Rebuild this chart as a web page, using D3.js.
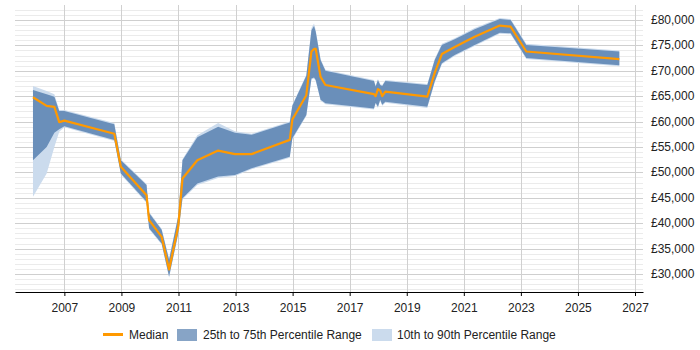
<!DOCTYPE html>
<html>
<head>
<meta charset="utf-8">
<script src="https://cdn.jsdelivr.net/npm/d3@7"></script>
<style>
  body { margin: 0; background: #fff; }
  text { font-family: "Liberation Sans", Arial, sans-serif; }
</style>
</head>
<body>
<div id="root"></div>
<script>
// decimal years of each sample
var years = [2005.9, 2006.38, 2006.65, 2006.82, 2007.0, 2008.75, 2008.98, 2009.88, 2009.97, 2010.41,
    2010.67, 2010.99, 2011.14, 2011.66, 2012.39, 2012.98, 2013.56, 2014.90, 2014.99, 2015.48,
    2015.66, 2015.75, 2015.81, 2015.98, 2016.15, 2017.85, 2017.91, 2017.99, 2018.07, 2018.14,
    2018.25, 2019.72, 2019.98, 2020.23, 2020.68, 2021.38, 2022.26, 2022.64, 2023.19, 2026.45]
var median = [64800, 63100, 62900, 59900, 60200, 57600, 51100, 45500, 40600, 37300,
    30900, 39300, 48800, 52400, 54300, 53600, 53600, 56400, 60400, 65200,
    73800, 74300, 74300, 68800, 67200, 65400, 65000, 66400, 66100, 65000,
    65900, 64900, 69600, 73300, 74700, 76700, 78900, 78700, 73800, 72300]
var p75 = [66200, 65400, 64900, 62100, 62100, 59500, 52400, 47500, 42000, 38700,
    32800, 41300, 52400, 56900, 59000, 57800, 57400, 59800, 63100, 69000,
    78000, 78800, 77700, 72100, 70000, 68000, 66900, 68200, 67200, 67000,
    68000, 67200, 72100, 75100, 76200, 78200, 80200, 80000, 75100, 73800]
var p25 = [52400, 55000, 57800, 58500, 59100, 56400, 49800, 44200, 39000, 36000,
    29500, 38000, 44900, 47800, 49200, 49500, 50800, 53100, 56700, 61300,
    68500, 68700, 68200, 64300, 63600, 62600, 63700, 62900, 64300, 63300,
    63900, 62900, 67900, 71500, 73100, 75100, 77500, 77400, 72500, 71100]
var p90 = [67000, 66000, 65400, 62300, 62300, 59700, 52600, 47700, 42200, 38900,
    33000, 41500, 52600, 57300, 59700, 58100, 57600, 60000, 63300, 69200,
    78400, 79300, 78000, 72300, 70200, 68200, 67100, 68400, 67400, 67200,
    68200, 67400, 72300, 75300, 76400, 78400, 80400, 80200, 75300, 74000]
var p10 = [45200, 49800, 55000, 58000, 58900, 56200, 49600, 44000, 38800, 35800,
    29300, 37800, 44700, 47500, 48900, 49300, 50600, 52900, 56500, 61100,
    68300, 68500, 68000, 64100, 63400, 62400, 63500, 62700, 64100, 63100,
    63700, 62700, 67700, 71300, 72900, 74900, 77300, 77200, 72300, 70900]

var xTicks = [2007, 2009, 2011, 2013, 2015, 2017, 2019, 2021, 2023, 2025, 2027]
var yTicks = [30000, 35000, 40000, 45000, 50000, 55000, 60000, 65000, 70000, 75000, 80000]
var legendItems = ["Median", "25th to 75th Percentile Range", "10th to 90th Percentile Range"]

var width = 700, height = 350
var plotL = 15, plotR = 643, plotT = 5, plotB = 292

var svg = d3.select("#root").append("svg")
    .attr("width", width)
    .attr("height", height)

var x = d3.scaleLinear().domain([2005.27, 2027.28]).range([plotL, plotR])
var y = d3.scaleLinear().domain([26460, 82950]).range([plotB, plotT])

// minor + major horizontal grid
var minor = d3.range(27000, 83000, 1000)
svg.append("g").selectAll("line")
    .data(minor)
    .enter().append("line")
    .attr("x1", plotL).attr("x2", plotR)
    .attr("y1", function (d) { return Math.round(y(d)) + 0.5 })
    .attr("y2", function (d) { return Math.round(y(d)) + 0.5 })
    .attr("stroke", function (d) { return d % 5000 === 0 ? "#cfcfcf" : "#ebebeb" })
    .attr("stroke-width", 1)

// vertical grid
svg.append("g").selectAll("line")
    .data(xTicks)
    .enter().append("line")
    .attr("x1", function (d) { return Math.round(x(d)) + 0.5 })
    .attr("x2", function (d) { return Math.round(x(d)) + 0.5 })
    .attr("y1", plotT).attr("y2", plotB)
    .attr("stroke", "#d0d0d0")

var idx = d3.range(years.length)

var outer = d3.area()
    .x(function (i) { return x(years[i]) })
    .y0(function (i) { return y(p10[i]) })
    .y1(function (i) { return y(p90[i]) })
var inner = d3.area()
    .x(function (i) { return x(years[i]) })
    .y0(function (i) { return y(p25[i]) })
    .y1(function (i) { return y(p75[i]) })
var line = d3.line()
    .x(function (i) { return x(years[i]) })
    .y(function (i) { return y(median[i]) })

svg.append("path").datum(idx).attr("d", outer).attr("fill", "#cbdbed")
svg.append("path").datum(idx).attr("d", inner).attr("fill", "#6a8fba")
svg.append("path").datum(idx).attr("d", line)
    .attr("fill", "none").attr("stroke", "#ff9900").attr("stroke-width", 2.2)
    .attr("stroke-linejoin", "round")

// bottom axis
var xAxis = svg.append("g")
    .attr("transform", "translate(0," + plotB + ")")
    .call(d3.axisBottom(x).tickValues(xTicks).tickFormat(d3.format("d")).tickSize(4).tickSizeOuter(0))
xAxis.select(".domain").attr("stroke", "#000")
xAxis.selectAll(".tick line").attr("stroke", "#000")
xAxis.selectAll("text").attr("font-size", 12).attr("fill", "#222").attr("dy", "1.05em")

// right labels
svg.append("g").selectAll("text")
    .data(yTicks)
    .enter().append("text")
    .attr("x", 651)
    .attr("y", function (d) { return y(d) + 4 })
    .attr("font-size", 12)
    .attr("fill", "#222")
    .text(function (d) { return "£" + d3.format(",")(d) })

// legend
var lg = svg.append("g")
lg.append("line").attr("x1", 103).attr("x2", 123).attr("y1", 334.5).attr("y2", 334.5)
    .attr("stroke", "#ff9900").attr("stroke-width", 3)
lg.append("text").attr("x", 129).attr("y", 339).attr("font-size", 12).attr("fill", "#222").text(legendItems[0])
lg.append("rect").attr("x", 177).attr("y", 329).attr("width", 20).attr("height", 12).attr("fill", "#87a4c6")
lg.append("text").attr("x", 203).attr("y", 339).attr("font-size", 12).attr("fill", "#222").text(legendItems[1])
lg.append("rect").attr("x", 372).attr("y", 329).attr("width", 20).attr("height", 12).attr("fill", "#cbdbed")
lg.append("text").attr("x", 397).attr("y", 339).attr("font-size", 12).attr("fill", "#222").text(legendItems[2])
</script>
</body>
</html>
